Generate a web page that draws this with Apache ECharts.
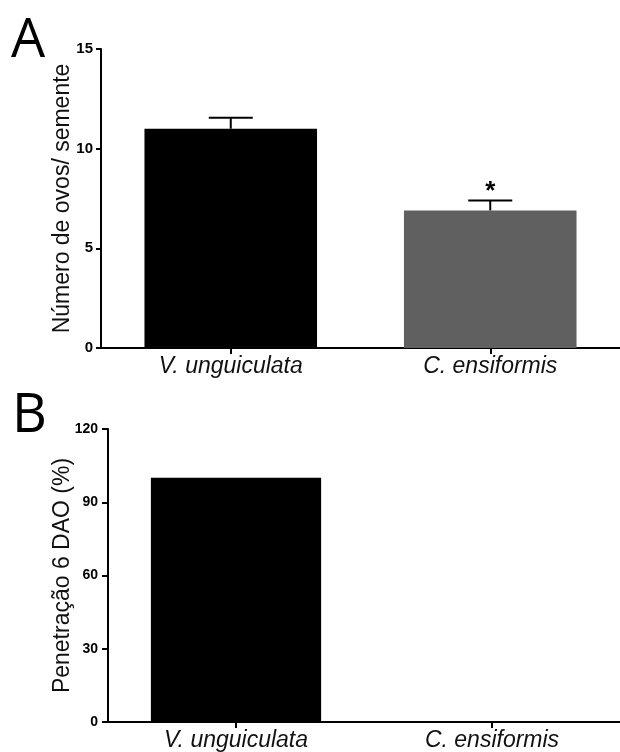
<!DOCTYPE html>
<html>
<head>
<meta charset="utf-8">
<script src="https://cdn.jsdelivr.net/npm/echarts@6/dist/echarts.min.js"></script>
<style>
html,body{margin:0;padding:0;background:#fff;}
#chart{width:620px;height:752px;}
</style>
</head>
<body>
<div id="chart"></div>
<script>
// ---- data ----
const categories = ['V. unguiculata', 'C. ensiformis'];
const eggsMean = [11.0, 6.9];
const eggsErr = [0.55, 0.5];
const eggsSig = ['', '*'];
const penetration = [100, 0];
const eggsTicks = { min: 0, max: 15, interval: 5 };
const penTicks = { min: 0, max: 120, interval: 30 };
const barColorsA = ['#000000', '#606060'];
const barColorsB = ['#000000', '#000000'];

const chart = echarts.init(document.getElementById('chart'), null, { renderer: 'canvas' });

const font = '"Liberation Sans", Arial, sans-serif';

function yAxisCommon(gridIndex, ticks, name, labelSize, tickLen, margin, nameGap) {
  return {
    type: 'value', gridIndex: gridIndex,
    min: ticks.min, max: ticks.max, interval: ticks.interval,
    name: name, nameLocation: 'middle', nameRotate: 90, nameGap: nameGap,
    nameMoveOverlap: false,
    nameTextStyle: { fontFamily: font, fontSize: 23, color: '#111' },
    axisLine: { show: true, lineStyle: { color: '#000', width: 2 } },
    axisTick: { show: true, length: tickLen, lineStyle: { color: '#000', width: 2 } },
    axisLabel: { fontFamily: font, fontSize: labelSize, fontWeight: 'bold', color: '#000', margin: margin },
    splitLine: { show: false }
  };
}
function xAxisCommon(gridIndex) {
  return {
    type: 'category', gridIndex: gridIndex, data: categories,
    axisLine: { show: true, lineStyle: { color: '#000', width: 2 } },
    axisTick: { show: true, alignWithLabel: true, length: 6, lineStyle: { color: '#000', width: 2 } },
    axisLabel: { fontFamily: font, fontSize: 23, fontStyle: 'italic', color: '#111', margin: 7 },
    splitLine: { show: false }
  };
}

const errData = eggsMean.map((v, i) => [i, v, eggsErr[i]]);

chart.setOption({
  animation: false,
  backgroundColor: '#fff',
  grid: [
    { left: 101, top: 49, width: 522, height: 299 },
    { left: 108, top: 429, width: 516, height: 293 }
  ],
  xAxis: [xAxisCommon(0), xAxisCommon(1)],
  yAxis: [
    yAxisCommon(0, eggsTicks, 'Número de ovos/ semente', 15, 5, 8, 27),
    yAxisCommon(1, penTicks, 'Penetração 6 DAO (%)', 14, 6, 10, 34)
  ],
  graphic: [
    { type: 'text', left: 11, top: 15, style: { text: 'A', font: '54px "Open Sans", sans-serif', fill: '#000' } },
    { type: 'text', left: 12, top: 390, style: { text: 'B', font: '54px "Open Sans", sans-serif', fill: '#000' } }
  ],
  series: [
    {
      type: 'bar', xAxisIndex: 0, yAxisIndex: 0, barWidth: '66.5%',
      data: eggsMean.map((v, i) => ({ value: v, itemStyle: { color: barColorsA[i] } })),
      z: 2
    },
    {
      type: 'custom', xAxisIndex: 0, yAxisIndex: 0, z: 3,
      data: errData,
      renderItem: function (params, api) {
        const x = api.value(0), y = api.value(1), e = api.value(2);
        const base = api.coord([x, y]);
        const top = api.coord([x, y + e]);
        const half = 22;
        const children = [
          { type: 'line', shape: { x1: base[0], y1: base[1], x2: top[0], y2: top[1] }, style: { stroke: '#000', lineWidth: 2 } },
          { type: 'line', shape: { x1: top[0] - half, y1: top[1], x2: top[0] + half, y2: top[1] }, style: { stroke: '#000', lineWidth: 2 } }
        ];
        const sig = eggsSig[params.dataIndex];
        if (sig) {
          children.push({ type: 'text', style: { text: sig, x: top[0], y: top[1] + 4, align: 'center', verticalAlign: 'bottom', font: 'bold 26px "Liberation Sans", Arial, sans-serif', fill: '#000' } });
        }
        return { type: 'group', children: children };
      }
    },
    {
      type: 'bar', xAxisIndex: 1, yAxisIndex: 1, barWidth: '66.5%',
      data: penetration.map((v, i) => ({ value: v, itemStyle: { color: barColorsB[i] } })),
      z: 2
    }
  ]
});
</script>
</body>
</html>
